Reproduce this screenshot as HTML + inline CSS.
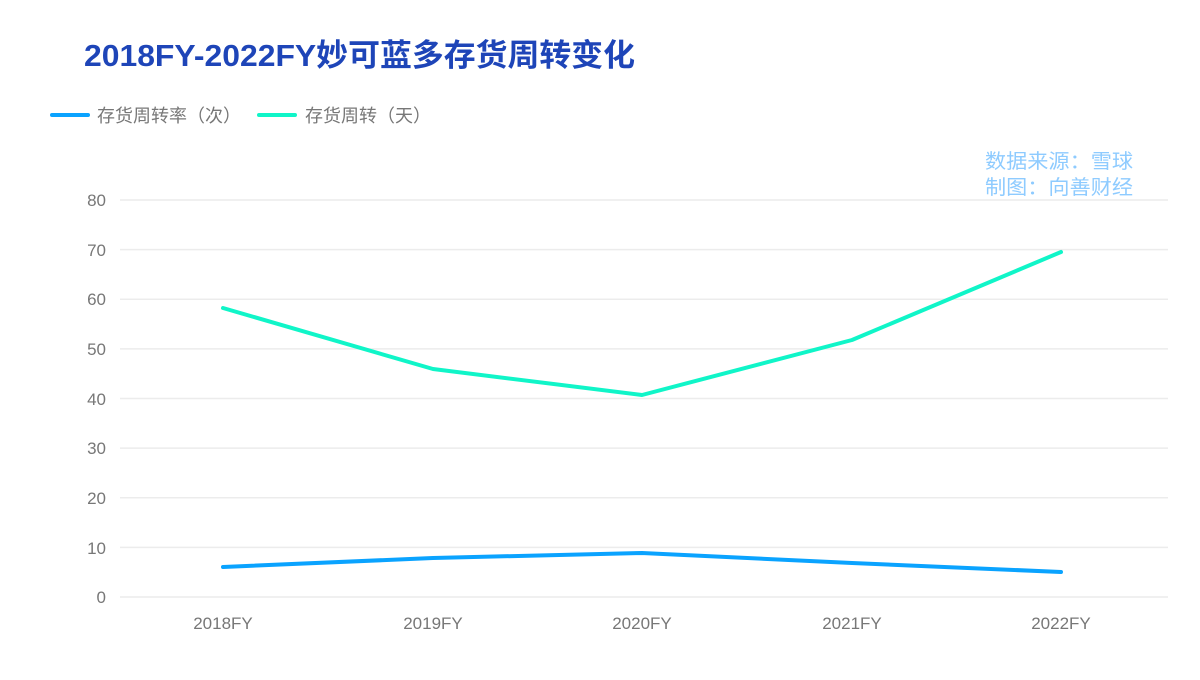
<!DOCTYPE html>
<html><head><meta charset="utf-8"><style>
body{margin:0;background:#fff;width:1200px;height:675px;overflow:hidden}
svg text{font-family:"Liberation Sans","Noto Sans CJK SC",sans-serif}
</style></head><body>
<svg width="1200" height="675" xmlns="http://www.w3.org/2000/svg">
<text x="84" y="66" font-size="31" font-weight="bold" fill="#1e45b8" textLength="551" lengthAdjust="spacingAndGlyphs">2018FY-2022FY妙可蓝多存货周转变化</text>
<line x1="52" y1="115" x2="88" y2="115" stroke="#0aa3ff" stroke-width="4" stroke-linecap="round"/>
<text x="97" y="122" font-size="18" fill="#777">存货周转率（次）</text>
<line x1="259" y1="115" x2="295" y2="115" stroke="#10f5c8" stroke-width="4" stroke-linecap="round"/>
<text x="305" y="122" font-size="18" fill="#777">存货周转（天）</text>
<text x="985" y="168" font-size="20" fill="#8ecbff" textLength="148" lengthAdjust="spacingAndGlyphs">数据来源：雪球</text>
<text x="985" y="194" font-size="20" fill="#8ecbff" textLength="148" lengthAdjust="spacingAndGlyphs">制图：向善财经</text>
<g stroke="#ececec" stroke-width="1.5">
<line x1="120" y1="200" x2="1168" y2="200"/><line x1="120" y1="249.6" x2="1168" y2="249.6"/>
<line x1="120" y1="299.2" x2="1168" y2="299.2"/><line x1="120" y1="348.9" x2="1168" y2="348.9"/>
<line x1="120" y1="398.5" x2="1168" y2="398.5"/><line x1="120" y1="448.1" x2="1168" y2="448.1"/>
<line x1="120" y1="497.8" x2="1168" y2="497.8"/><line x1="120" y1="547.4" x2="1168" y2="547.4"/>
<line x1="120" y1="597" x2="1168" y2="597"/>
</g>
<g font-size="17" fill="#777" text-anchor="end">
<text x="106" y="206">80</text><text x="106" y="256">70</text><text x="106" y="305">60</text>
<text x="106" y="355">50</text><text x="106" y="405">40</text><text x="106" y="454">30</text>
<text x="106" y="504">20</text><text x="106" y="554">10</text><text x="106" y="603">0</text>
</g>
<g font-size="17" fill="#777" text-anchor="middle">
<text x="223" y="629">2018FY</text><text x="433" y="629">2019FY</text><text x="642" y="629">2020FY</text>
<text x="852" y="629">2021FY</text><text x="1061" y="629">2022FY</text>
</g>
<polyline points="223,308 433,369 642,395 852,340 1061,252" fill="none" stroke="#10f5c8" stroke-width="4" stroke-linecap="round" stroke-linejoin="round"/>
<polyline points="223,567 433,558 642,553 852,563 1061,572" fill="none" stroke="#0aa3ff" stroke-width="4" stroke-linecap="round" stroke-linejoin="round"/>
</svg>
</body></html>
